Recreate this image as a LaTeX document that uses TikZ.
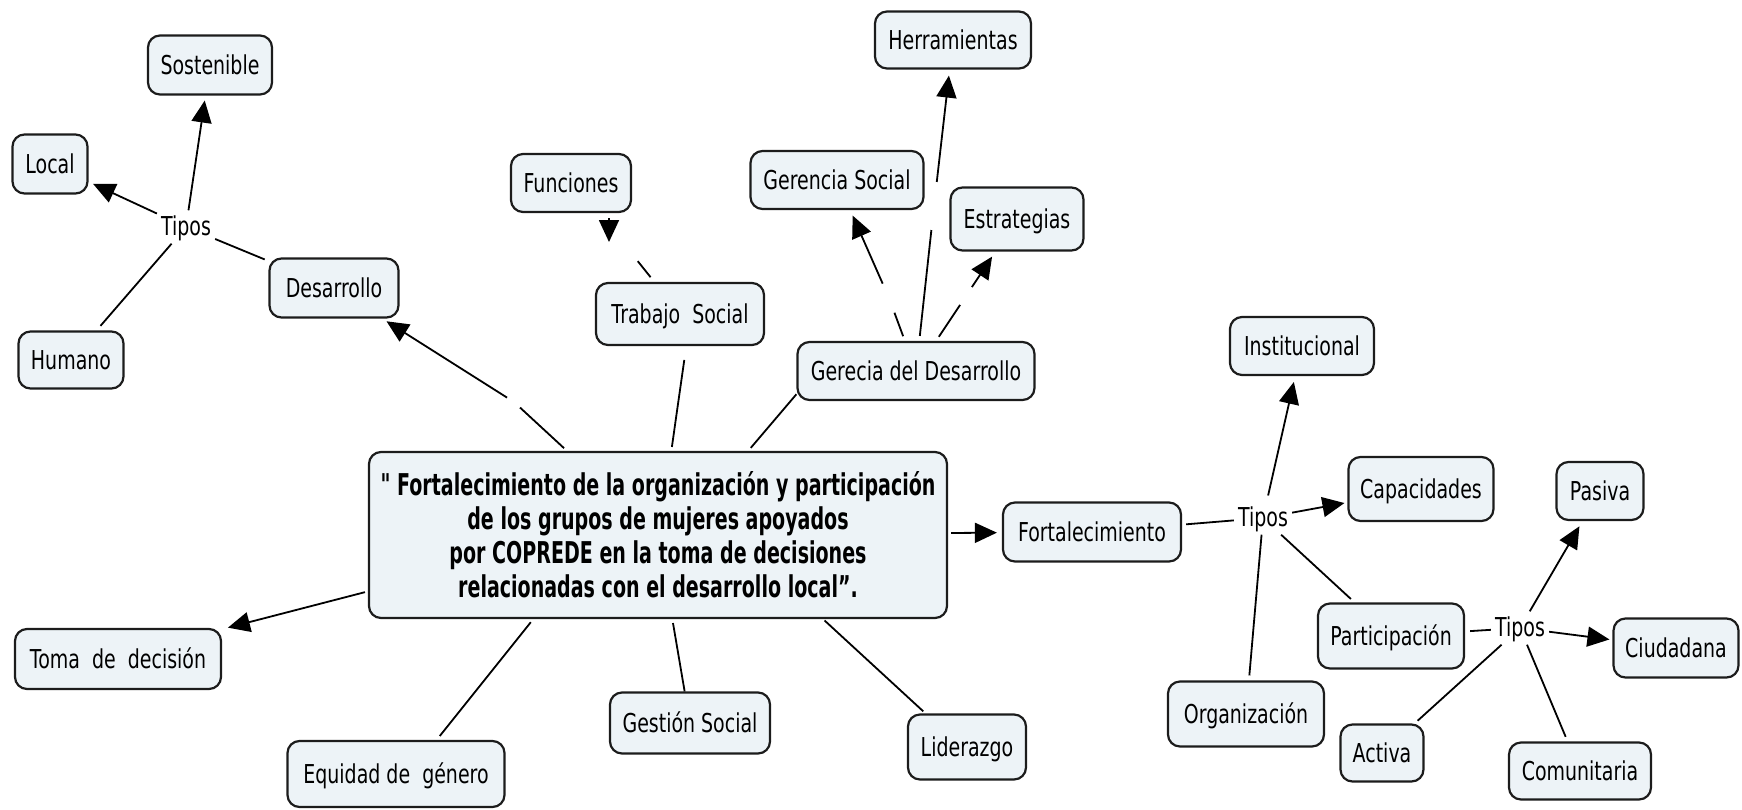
\documentclass[tikz,border=0pt]{standalone}
\usepackage{fontspec}
\setmainfont{DejaVu Sans}[FakeStretch=0.73]
\newfontfamily\mainbf{DejaVu Sans Bold}[FakeStretch=0.635]
\usetikzlibrary{arrows.meta}
\definecolor{boxfill}{RGB}{237,243,247}
\definecolor{boxline}{RGB}{28,28,28}
\begin{document}
\begin{tikzpicture}[x=1pt,y=-1pt,
  box/.style={draw=boxline, line width=2.2pt, fill=boxfill, rounded corners=12pt},
  concept/.style={box, inner xsep=4pt, inner ysep=0pt, minimum height=59pt,
    text height=22pt, text depth=3pt, font=\fontsize{26}{31}\selectfont},
  mainbox/.style={box, align=center, inner sep=4pt, font=\mainbf\fontsize{30}{34}\selectfont},
  lab/.style={inner xsep=4pt, inner ysep=4pt, text height=21pt, text depth=4pt,
    font=\fontsize{26}{31}\selectfont},
  lk/.style={circle, inner sep=0pt, minimum size=#1},
  ln/.style={line width=1.8pt, draw=black},
  ar/.style={ln, -{Triangle[length=22pt,width=20pt]}},
]
\useasboundingbox (0,0) rectangle (1742,809);

% central concept
\node[mainbox, minimum width=578pt, minimum height=166pt] (main) at (658,535)
  {" Fortalecimiento de la organización y participación\\
   de los grupos de mujeres apoyados\\
   por COPREDE en la toma de decisiones\\
   relacionadas con el desarrollo local”.};

% left group
\node[concept, minimum width=124pt] (sost) at (210,65) {Sostenible};
\node[concept, minimum width=75pt] (local) at (50,164) {Local};
\node[lab] (tipL) at (186,227) {Tipos};
\node[concept, minimum width=129pt] (desa) at (334,288) {Desarrollo};
\node[concept, minimum width=105pt, minimum height=57pt] (human) at (71,360) {Humano};

% top group
\node[concept, minimum width=120pt, minimum height=58pt] (func) at (571,183) {Funciones};
\node[concept, minimum width=168pt, minimum height=62pt] (ts) at (680,314) {Trabajo~~Social};
\node[concept, minimum width=156pt, minimum height=57pt] (herr) at (953,40) {Herramientas};
\node[concept, minimum width=173pt, minimum height=58pt] (gersoc) at (837,180) {Gerencia Social};
\node[concept, minimum width=133pt, minimum height=63pt] (estr) at (1017,219) {Estrategias};
\node[concept, minimum width=237pt, minimum height=58pt] (gerdes) at (916,371) {Gerecia del Desarrollo};

% bottom group
\node[concept, minimum width=206pt, minimum height=60pt] (toma) at (118,659) {Toma~~de~~decisión};
\node[concept, minimum width=217pt, minimum height=66pt] (equi) at (396,774) {Equidad de~~género};
\node[concept, minimum width=160pt, minimum height=61pt] (gest) at (690,723) {Gestión Social};
\node[concept, minimum width=118pt, minimum height=65pt] (lider) at (967,747) {Liderazgo};

% right group
\node[concept, minimum width=178pt] (fort) at (1092,532) {Fortalecimiento};
\node[lab] (tipR1) at (1263,518) {Tipos};
\node[concept, minimum width=144pt, minimum height=58pt] (inst) at (1302,346) {Institucional};
\node[concept, minimum width=145pt, minimum height=64pt] (capa) at (1421,489) {Capacidades};
\node[concept, minimum width=87pt, minimum height=58pt] (pasiva) at (1600,491) {Pasiva};
\node[concept, minimum width=146pt, minimum height=65pt] (part) at (1391,636) {Participación};
\node[lab] (tipR2) at (1520,628) {Tipos};
\node[concept, minimum width=125pt] (ciud) at (1676,648) {Ciudadana};
\node[concept, minimum width=156pt, minimum height=65pt] (orga) at (1246,714) {Organización};
\node[concept, minimum width=83pt, minimum height=57pt] (activa) at (1382,753) {Activa};
\node[concept, minimum width=142pt, minimum height=57pt] (comu) at (1580,771) {Comunitaria};

% empty linking phrases (gaps)
\node[lk=16pt] (l1) at (514,402) {};
\node[lk=18pt] (lF) at (632,254) {};
\node[lk=31pt] (lGS) at (889,298) {};
\node[lk=48pt] (lH) at (934,206) {};
\node[lk=21pt] (lE) at (966,296) {};
\coordinate (fA) at (609,218);
\coordinate (fB) at (609,242);

% left connectors
\draw[ln, shorten <=4pt] (desa) -- (tipL);
\draw[ar, shorten >=5pt] (tipL) -- (local);
\draw[ar, shorten >=5pt] (tipL) -- (sost);
\draw[ln, shorten >=6pt] (tipL) -- (human);
\draw[ln, shorten <=4pt] (main) -- (l1);
\draw[ar, shorten >=5pt] (l1) -- (desa);

% top connectors
\draw[ln, shorten <=6pt] (ts) -- (lF);
\draw[ar] (fA) -- (fB);
\draw[ln, shorten <=4pt, shorten >=14pt] (main.81) -- (ts.281);
\draw[ln, shorten <=4pt] (main.43) -- (gerdes.191);
\draw[ln, shorten <=5pt] (gerdes) -- (lGS);
\draw[ar, shorten >=6pt] (lGS) -- (gersoc);
\draw[ln, shorten <=5pt] (gerdes) -- (lH);
\draw[ar, shorten >=6pt] (lH) -- (herr);
\draw[ln, shorten <=5pt] (gerdes) -- (lE);
\draw[ar, shorten >=6pt] (lE) -- (estr);

% bottom connectors
\draw[ar, shorten <=3pt, shorten >=6pt] (main.191) -- (toma.16);
\draw[ln, shorten <=4pt, shorten >=5pt] (main.214) -- (equi.40);
\draw[ln, shorten <=4pt] (main) -- (gest);
\draw[ln, shorten <=2pt, shorten >=3pt] (main.333) -- (lider.141);
\draw[ar, shorten <=3pt, shorten >=5pt] (main) -- (fort);

% right connectors
\draw[ln, shorten <=4pt] (fort) -- (tipR1);
\draw[ar, shorten >=3pt] (tipR1) -- (capa);
\draw[ar, shorten <=6pt, shorten >=6pt] (tipR1) -- (inst);
\draw[ln, shorten >=5pt] (tipR1) -- (orga);
\draw[ln, shorten >=5pt] (tipR1) -- (part);
\draw[ln, shorten <=5pt] (part) -- (tipR2);
\draw[ar, shorten >=6pt] (tipR2) -- (pasiva);
\draw[ar, shorten >=3pt] (tipR2) -- (ciud);
\draw[ln, shorten >=4pt] (tipR2) -- (activa);
\draw[ln, shorten >=5pt] (tipR2) -- (comu);
\end{tikzpicture}
\end{document}
